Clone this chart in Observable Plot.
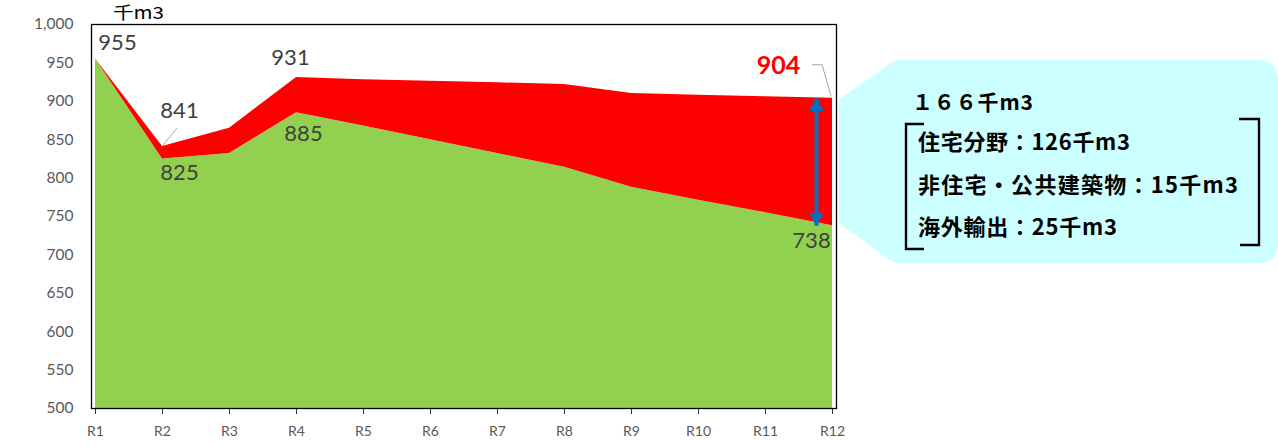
<!DOCTYPE html>
<html>
<head>
<meta charset="utf-8">
<script src="https://cdn.jsdelivr.net/npm/d3@7"></script>
<script src="https://cdn.jsdelivr.net/npm/@observablehq/plot@0.6"></script>
<style>
  html, body { margin: 0; padding: 0; background: #fff; }
  #chart { width: 1278px; height: 445px; }
</style>
</head>
<body>
<div id="chart"></div>
<script>
// ---- data ----
const years = ["R1","R2","R3","R4","R5","R6","R7","R8","R9","R10","R11","R12"];
const base  = [955, 825, 832, 885, 868, 850, 832, 814, 788, 771, 755, 738];   // green
const total = [955, 841, 865, 931, 928, 926, 924, 922, 910, 908, 906, 904];   // red top
const yTicks = [500, 550, 600, 650, 700, 750, 800, 850, 900, 950, 1000];
const unitLabel = "千m3";
const calloutTitle = "１６６千m3";
const calloutLines = ["住宅分野：126千m3", "非住宅・公共建築物：15千m3", "海外輸出：25千m3"];

const rows = years.map((y, i) => ({year: y, base: base[i], total: total[i]}));
const yMin = yTicks[0];
const last = years.length - 1;

const GRAY = "#404040";
const lab = (i, key, dx, dy, extra = {}) =>
  Plot.text([rows[i]], {x: "year", y: key, text: d => String(d[key]), dx, dy,
    fontSize: 22, fill: GRAY, ...extra});

const chart = Plot.plot({
  width: 1278, height: 445,
  marginLeft: 91, marginRight: 442, marginTop: 24, marginBottom: 37,
  style: {fontFamily: "Lato, 'Open Sans', sans-serif", background: "white"},
  x: {type: "point", domain: years, padding: 0, label: null},
  y: {domain: [yMin, yTicks[yTicks.length - 1]], label: null},
  marks: [
    Plot.areaY(rows, {x: "year", y1: () => yMin, y2: "base", fill: "#92D050"}),
    Plot.areaY(rows, {x: "year", y1: "base", y2: "total", fill: "#FF0000"}),
    Plot.axisY({ticks: yTicks, tickSize: 0, tickPadding: 18, tickFormat: d3.format(","), fontSize: 15.5, fill: "#595959", label: null}),
    Plot.axisX({tickSize: 6, tickPadding: 12, fontSize: 14, fill: "#595959", stroke: "#333", label: null}),
    Plot.frame({stroke: "black", strokeWidth: 1.3}),
    // double-headed arrow
    Plot.link([rows[last]], {x1: "year", x2: "year", y1: "total", y2: "base", dx: -16, stroke: "#0070C0", strokeWidth: 4}),
    Plot.dot([rows[last]], {x: "year", y: "total", dx: -16, dy: 8.5, symbol: "triangle", r: 5.5, fill: "#0070C0", stroke: "none"}),
    Plot.dot([rows[last]], {x: "year", y: "base", dx: -16, dy: -8.5, symbol: "triangle", rotate: 180, r: 5.5, fill: "#0070C0", stroke: "none"}),
    // labels
    lab(0, "total", 22, -16),
    lab(1, "total", 17, -36),
    lab(1, "base", 17, 14),
    lab(3, "total", -6, -20),
    lab(3, "base", 7, 21),
    lab(last, "total", -54, -32, {fill: "#FF0000", fontWeight: "bold", fontSize: 25}),
    lab(last, "base", -21, 15)
  ]
});

document.getElementById("chart").appendChild(chart);

// annotations drawn with the chart's own scales
const sx = chart.scale("x"), sy = chart.scale("y");
const svg = d3.select(chart);
const g = svg.append("g").attr("text-anchor", "start");
// leader lines
const x2 = sx.apply(years[1]), y2 = sy.apply(total[1]);
g.append("path").attr("d", `M${x2 + 1},${y2 - 1} L${x2 + 15},${y2 - 18}`).attr("stroke", "#A6A6A6").attr("fill", "none");
const x12 = sx.apply(years[last]), y12 = sy.apply(total[last]);
g.append("path").attr("d", `M${x12 - 20},${y12 - 33} L${x12 - 10},${y12 - 33} L${x12 - 1},${y12 - 2}`).attr("stroke", "#A6A6A6").attr("fill", "none");
// unit label
g.append("text").attr("x", 113).attr("y", 19).attr("font-size", 17).attr("fill", "black")
  .attr("textLength", 51).attr("lengthAdjust", "spacingAndGlyphs")
  .attr("font-family", "'Noto Sans CJK JP', sans-serif").text(unitLabel);
// callout box
g.append("path")
  .attr("d", `M${x12 + 7},${y12 + 2} L888,65 Q893,60 900,60 L1258,60 Q1278,60 1278,80 L1278,243 Q1278,263 1258,263 L900,263 Q894,263 890,260 L${x12 + 7},223 Z`)
  .attr("fill", "#CCFFFF");
const jp = "'Noto Sans CJK JP', sans-serif";
g.append("text").attr("x", 912).attr("y", 110).attr("font-size", 21).attr("font-weight", "bold")
  .attr("textLength", 121).attr("lengthAdjust", "spacing")
  .attr("font-family", jp).attr("fill", "black").text(calloutTitle);
const lineY = [150, 193, 235], lineW = [212, 320, 199];
lineY.forEach((yy, i) => {
  g.append("text").attr("x", 918).attr("y", yy).attr("font-size", 22).attr("font-weight", "bold")
    .attr("textLength", lineW[i]).attr("lengthAdjust", "spacing")
    .attr("font-family", jp).attr("fill", "black").text(calloutLines[i]);
});
// brackets
g.append("path").attr("d", "M924,124 L906,124 L906,249 L924,249").attr("stroke", "black").attr("stroke-width", 2.4).attr("fill", "none");
g.append("path").attr("d", "M1239,119 L1259,119 L1259,245 L1240,245").attr("stroke", "black").attr("stroke-width", 2.4).attr("fill", "none");
</script>
</body>
</html>
